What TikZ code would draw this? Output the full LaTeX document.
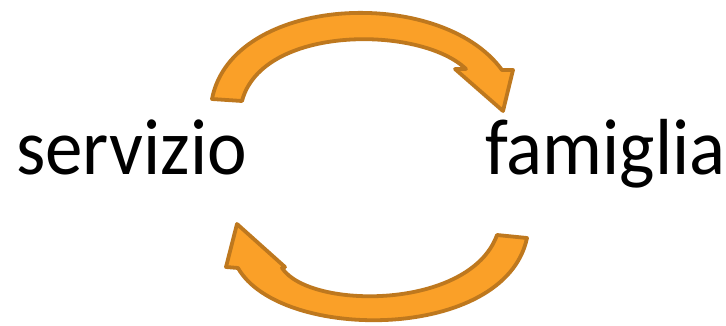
\documentclass[tikz,border=0pt]{standalone}
\usepackage{fontspec}
\setmainfont{Carlito}
\definecolor{arrfill}{RGB}{250,160,40}
\definecolor{arrline}{RGB}{190,120,30}
\begin{document}
\begin{tikzpicture}[x=1pt,y=-1pt,
  blockarrow/.style={fill=arrfill,draw=arrline,line width=3.8pt,line join=round},
  label/.style={font=\fontsize{75}{80}\selectfont,inner sep=0pt,anchor=base west}]
\useasboundingbox (0,0) rectangle (726,325);
% top arrow
\draw[blockarrow] (212,99) .. controls (232,-5) and (440,-15) .. (502,70)
  -- (513,70) -- (503,111) -- (455,69) -- (466,69)
  .. controls (420,25) and (262,25) .. (242,101) -- cycle;
% bottom arrow
\draw[blockarrow] (527,238) .. controls (505,342) and (280,342) .. (238,268)
  -- (226,267) -- (237,224) -- (285,267) -- (282,268)
  .. controls (310,310) and (470,310) .. (497,235) -- cycle;
\node[label] (servizio) at (16,174) {\scalebox{1}[1.06]{servizio}};
\node[label] (famiglia) at (485,174) {\scalebox{1}[1.06]{famiglia}};
\end{tikzpicture}
\end{document}
